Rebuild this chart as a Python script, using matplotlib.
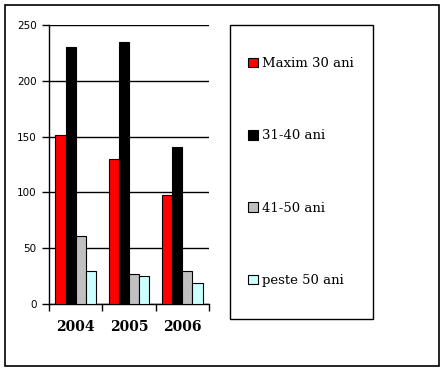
import matplotlib.pyplot as plt
import numpy as np
from matplotlib.patches import Rectangle

years = ['2004', '2005', '2006']
series = ['Maxim 30 ani', '31-40 ani', '41-50 ani', 'peste 50 ani']
maxim_30 = [151, 130, 98]
ani_31_40 = [230, 235, 141]
ani_41_50 = [61, 27, 30]
peste_50 = [30, 25, 19]
colors = ['#ff0000', '#000000', '#c0c0c0', '#ccffff']

W, H = 445, 372
fig = plt.figure(figsize=(W / 100, H / 100), dpi=100)

# outer frame of the whole picture
fig.patches.append(Rectangle((5 / W, 1 - 366 / H), 434 / W, 361 / H, transform=fig.transFigure,
                             fill=False, edgecolor='black', linewidth=1.2))

ax = fig.add_axes([49 / W, 1 - 304 / H, 160 / W, 279 / H])

x = np.arange(len(years))
width = 0.19
handles = []
for i, (vals, name) in enumerate(zip([maxim_30, ani_31_40, ani_41_50, peste_50], series)):
    b = ax.bar(x + (i - 1.5) * width, vals, width, color=colors[i], edgecolor='black',
               linewidth=0.8, label=name, zorder=3)
    handles.append(b)

ax.set_xlim(-0.5, 2.5)
ax.set_ylim(0, 250)
ax.set_yticks(range(0, 251, 50))
ax.yaxis.grid(True, color='black', linewidth=1)
ax.set_axisbelow(True)
for s in ['top', 'right']:
    ax.spines[s].set_visible(False)
ax.spines['left'].set_linewidth(1)
ax.spines['bottom'].set_linewidth(1)
ax.tick_params(axis='y', length=5, width=1, labelsize=7.5, pad=4)

# category separators as ticks on the x axis
ax.set_xticks([-0.5, 0.5, 1.5, 2.5])
ax.set_xticklabels([])
ax.tick_params(axis='x', length=5, width=1)
for xi, yr in zip(x, years):
    ax.text(xi, -0.083, yr, transform=ax.get_xaxis_transform(), ha='center', va='center',
            fontsize=10, fontweight='bold', family='DejaVu Serif')

# legend box
fig.patches.append(Rectangle((230 / W, 1 - 319 / H), 143 / W, 294 / H, transform=fig.transFigure,
                             fill=False, edgecolor='black', linewidth=1))
fig.legend(handles=handles, loc='center left', bbox_to_anchor=(236 / W, 1 - 172 / H),
           frameon=False, prop={'family': 'DejaVu Serif', 'size': 9.5},
           handlelength=0.75, handleheight=0.75, handletextpad=0.35, labelspacing=4.5)

fig.savefig('out.png', dpi=100)
